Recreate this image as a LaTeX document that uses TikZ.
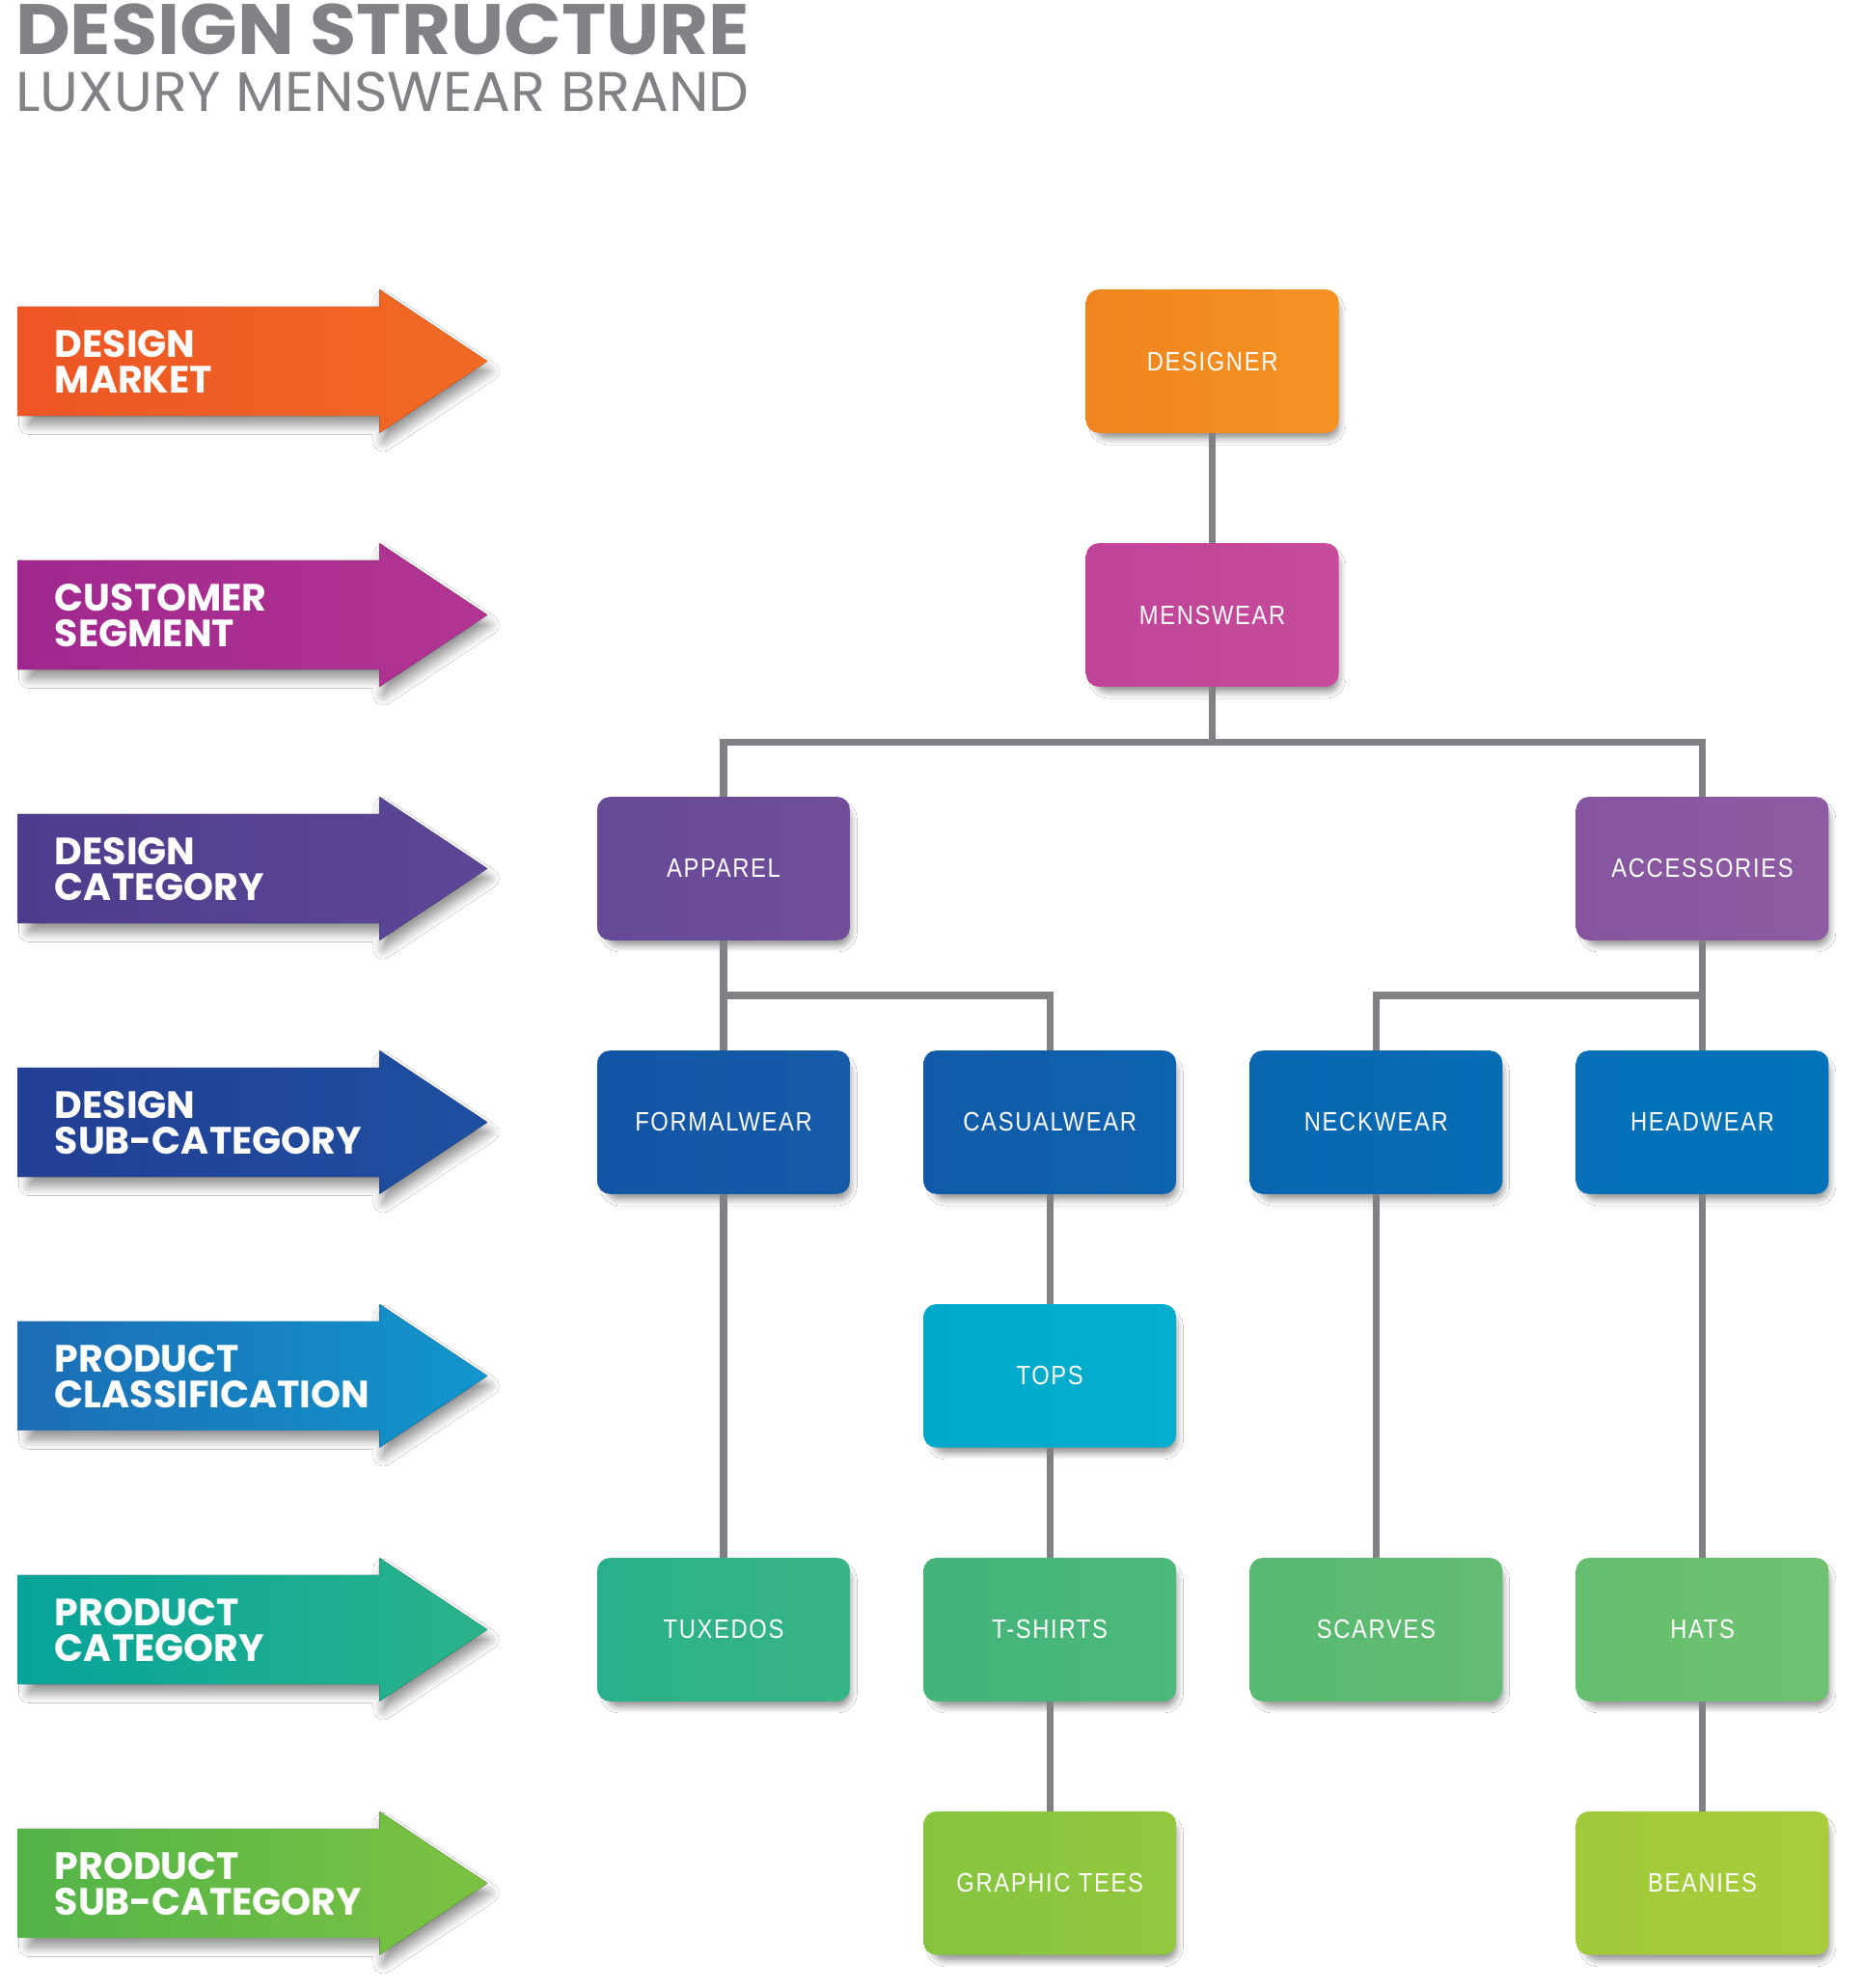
\documentclass[tikz,border=0pt]{standalone}
\usepackage{fontspec}
\usetikzlibrary{shadows.blur,calc}
\newfontfamily\popfam{Poppins}
\newfontfamily\boxfont{Liberation Sans}[FakeStretch=0.86,LetterSpace=6]
\definecolor{titlegray}{HTML}{808285}
\definecolor{linegray}{HTML}{808184}
% arrow colours
\definecolor{aoneL}{HTML}{ED5524}\definecolor{aoneR}{HTML}{F16A24}
\definecolor{atwoL}{HTML}{A0278E}\definecolor{atwoR}{HTML}{B23592}
\definecolor{athreeL}{HTML}{4D3D8C}\definecolor{athreeR}{HTML}{5E4696}
\definecolor{afourL}{HTML}{233F94}\definecolor{afourR}{HTML}{1D4FA0}
\definecolor{afiveL}{HTML}{1C6DB5}\definecolor{afiveR}{HTML}{1196CB}
\definecolor{asixL}{HTML}{05A39A}\definecolor{asixR}{HTML}{2BB38A}
\definecolor{asevenL}{HTML}{52B448}\definecolor{asevenR}{HTML}{7CC242}
% box colours
\definecolor{designerL}{HTML}{F0851F}\definecolor{designerR}{HTML}{F59222}
\definecolor{menswearL}{HTML}{BF4397}\definecolor{menswearR}{HTML}{C74C9C}
\definecolor{apparelL}{HTML}{654A98}\definecolor{apparelR}{HTML}{714E99}
\definecolor{accessL}{HTML}{85559F}\definecolor{accessR}{HTML}{8E5CA2}
\definecolor{formalL}{HTML}{1355A5}\definecolor{formalR}{HTML}{155BA8}
\definecolor{casualL}{HTML}{115AA9}\definecolor{casualR}{HTML}{0C63AE}
\definecolor{neckL}{HTML}{0967B2}\definecolor{neckR}{HTML}{066CB4}
\definecolor{headL}{HTML}{0370B7}\definecolor{headR}{HTML}{0073B8}
\definecolor{topsL}{HTML}{00A8C9}\definecolor{topsR}{HTML}{05AECF}
\definecolor{tuxL}{HTML}{29B08A}\definecolor{tuxR}{HTML}{38B585}
\definecolor{tshirtL}{HTML}{42B47A}\definecolor{tshirtR}{HTML}{4CB879}
\definecolor{scarfL}{HTML}{58B972}\definecolor{scarfR}{HTML}{62BC71}
\definecolor{hatsL}{HTML}{66BE70}\definecolor{hatsR}{HTML}{6EC171}
\definecolor{graphicL}{HTML}{86C440}\definecolor{graphicR}{HTML}{93C83E}
\definecolor{beanieL}{HTML}{A0CA3A}\definecolor{beanieR}{HTML}{A9CC3B}
\tikzset{
  conn/.style={draw=linegray, line width=5.5pt},
  box/.style={rounded corners=10pt, minimum width=199pt, minimum height=113pt, inner sep=0pt,
    text=white, font=\boxfont\fontsize{21}{21}\selectfont,
    left color=#1L, right color=#1R,
    blur shadow={shadow xshift=4pt, shadow yshift=-6pt, shadow scale=0.96, shadow blur radius=6pt,
      shadow blur steps=10, shadow opacity=50}},
  arrowshadow/.style={blur shadow={shadow xshift=5pt, shadow yshift=-8pt, shadow scale=0.98, shadow blur radius=8pt,
      shadow blur steps=10, shadow opacity=45}},
  lvltext/.style={anchor=base west, inner sep=0pt, text=white, font=\popfam\bfseries\fontsize{30}{30}\selectfont},
}
\newcommand\levelarrow[5]{%
  \fill[left color=#2L, right color=#2R, arrowshadow]
    (14,#1-43) -- (299,#1-43) -- (299,#1-56.5) -- (384,#1) -- (299,#1+56.5) -- (299,#1+43) -- (14,#1+43) -- cycle;
  \node[lvltext] (#2a) at (43,#1-3) {#3};
  \node[lvltext] (#2b) at (43,#1+25) {#4};
}
\begin{document}
\begin{tikzpicture}[x=1pt,y=-1pt]
\useasboundingbox (0,0) rectangle (1466,1566.3);
\fill[white] (0,0) rectangle (1466,1566.3);

% title
\node[anchor=base west, inner sep=0pt, text=titlegray] (title) at (12,43)
  {\resizebox{578pt}{40pt}{\popfam\bfseries DESIGN STRUCTURE}};
\node[anchor=base west, inner sep=0pt, text=titlegray] (subtitle) at (12,88)
  {\resizebox{578pt}{31pt}{\popfam LUXURY MENSWEAR BRAND}};

% level arrows
\levelarrow{284.6}{aone}{DESIGN}{MARKET}{}
\levelarrow{484.5}{atwo}{CUSTOMER}{SEGMENT}{}
\levelarrow{684.3}{athree}{DESIGN}{CATEGORY}{}
\levelarrow{884.2}{afour}{DESIGN}{SUB-CATEGORY}{}
\levelarrow{1084.0}{afive}{PRODUCT}{CLASSIFICATION}{}
\levelarrow{1283.9}{asix}{PRODUCT}{CATEGORY}{}
\levelarrow{1483.7}{aseven}{PRODUCT}{SUB-CATEGORY}{}

% boxes
\node[box=designer] (designer) at (955,284.6) {DESIGNER};
\node[box=menswear] (menswear) at (955,484.5) {MENSWEAR};
\node[box=apparel] (apparel) at (570,684.3) {APPAREL};
\node[box=access] (accessories) at (1341,684.3) {ACCESSORIES};
\node[box=formal] (formalwear) at (570,884.2) {FORMALWEAR};
\node[box=casual] (casualwear) at (827,884.2) {CASUALWEAR};
\node[box=neck] (neckwear) at (1084,884.2) {NECKWEAR};
\node[box=head] (headwear) at (1341,884.2) {HEADWEAR};
\node[box=tops] (tops) at (827,1084.0) {TOPS};
\node[box=tux] (tuxedos) at (570,1283.9) {TUXEDOS};
\node[box=tshirt] (tshirts) at (827,1283.9) {T-SHIRTS};
\node[box=scarf] (scarves) at (1084,1283.9) {SCARVES};
\node[box=hats] (hats) at (1341,1283.9) {HATS};
\node[box=graphic] (graphic) at (827,1483.7) {GRAPHIC TEES};
\node[box=beanie] (beanies) at (1341,1483.7) {BEANIES};

% connectors
\coordinate (j1) at (955,584.5);
\coordinate (j2) at (570,784.3);
\coordinate (j3) at (1341,784.3);
\draw[conn] (designer) -- (menswear);
\draw[conn] (menswear.south) -- (j1);
\draw[conn] (apparel.north) -- (apparel.north |- j1) -- (accessories.north |- j1) -- (accessories.north);
\draw[conn] (apparel) -- (formalwear);
\draw[conn] (j2) -| (casualwear.north);
\draw[conn] (accessories) -- (headwear);
\draw[conn] (j3) -| (neckwear.north);
\draw[conn] (formalwear) -- (tuxedos);
\draw[conn] (casualwear) -- (tops);
\draw[conn] (tops) -- (tshirts);
\draw[conn] (tshirts) -- (graphic);
\draw[conn] (neckwear) -- (scarves);
\draw[conn] (headwear) -- (hats);
\draw[conn] (hats) -- (beanies);
\end{tikzpicture}
\end{document}
